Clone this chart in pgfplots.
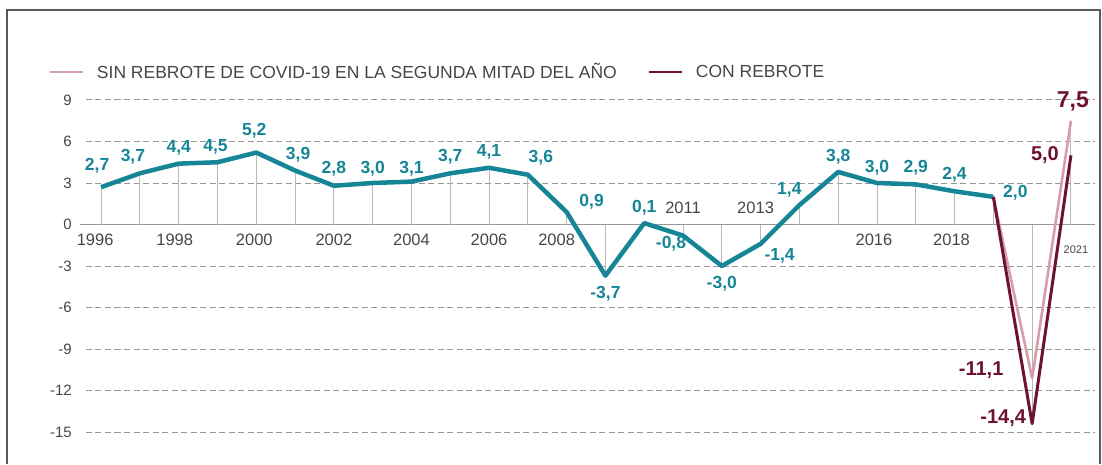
\documentclass[border=0pt]{standalone}
\usepackage{pgfplots}
\pgfplotsset{compat=1.18}
\usepackage{fontspec}
\setmainfont{Liberation Sans}
\definecolor{tealc}{RGB}{22,134,150}
\definecolor{maroonc}{RGB}{110,18,52}
\definecolor{pinkc}{RGB}{214,158,168}
\definecolor{gridc}{RGB}{150,150,150}
\definecolor{txtc}{RGB}{70,70,70}
\newcommand{\lf}{\fontsize{17.5}{17.5}\selectfont\bfseries}
\newcommand{\bigf}{\fontsize{20}{20}\selectfont\bfseries}
\newcommand{\yf}{\fontsize{16.5}{16.5}\selectfont}
\begin{document}
\begin{tikzpicture}[x=1pt,y=1pt]
\useasboundingbox (-86,-32) rectangle (1016,432);
\draw[black!65, line width=2pt] (-79,-32) -- (-79,422) -- (1014,422) -- (1014,-32);
\begin{axis}[
  at={(0,0)}, anchor=south west,
  scale only axis, width=1009pt, height=332pt,
  xmin=1995.61, xmax=2021.62, ymin=-15, ymax=9,
  clip=false,
  axis line style={draw=none},
  major tick length=0pt,
  xtick=\empty,
  ytick={-15,-12,-9,-6,-3,0,3,6,9},
  yticklabels={-15,-12,-9,-6,-3,0,3,6,9},
  yticklabel style={font=\fontsize{15}{15}\selectfont, text=txtc, inner sep=0pt, xshift=-14pt},
  ymajorgrids,
  grid style={gridc, line width=1pt, dash pattern=on 6pt off 3.5pt},
  legend columns=2,
  legend style={draw=none, fill=none, inner sep=0pt, outer sep=0pt,
    at={(-0.0367,1.0843)}, anchor=west,
    font=\fontsize{17.5}{17.5}\selectfont, text=txtc,
    nodes={inner sep=0pt},
    /tikz/every even column/.append style={column sep=31pt},
    /tikz/every odd column/.append style={column sep=13pt}},
  legend cell align=left,
  legend image code/.code={\draw[#1, line width=2pt] (0pt,0pt) -- (33pt,0pt);},
]
% zero line
\draw[gridc, line width=1.2pt] (axis cs:1995.45,0) -- (axis cs:2021.62,0);
% drop lines
\addplot[ycomb, draw=gray!55, line width=0.9pt, forget plot] coordinates {
(1996,2.7)(1997,3.7)(1998,4.4)(1999,4.5)(2000,5.2)(2001,3.9)(2002,2.8)(2003,3.0)
(2004,3.1)(2005,3.7)(2006,4.1)(2007,3.6)(2008,0.9)(2009,-3.7)(2010,0.1)(2011,-0.8)
(2012,-3.0)(2013,-1.4)(2014,1.4)(2015,3.8)(2016,3.0)(2017,2.9)(2018,2.4)(2019,2.0)
(2020,-14.4)(2021,7.5)};
% main series
\addplot[tealc, line width=4.5pt, line join=round, forget plot] coordinates {
(1996,2.7)(1997,3.7)(1998,4.4)(1999,4.5)(2000,5.2)(2001,3.9)(2002,2.8)(2003,3.0)
(2004,3.1)(2005,3.7)(2006,4.1)(2007,3.6)(2008,0.9)(2009,-3.7)(2010,0.1)(2011,-0.8)
(2012,-3.0)(2013,-1.4)(2014,1.4)(2015,3.8)(2016,3.0)(2017,2.9)(2018,2.4)(2019,2.0)};
\addplot[pinkc, line width=2.6pt, line join=round] coordinates {(2019,2.0)(2020,-11.1)(2021,7.5)};
\addlegendentry{SIN REBROTE DE COVID-19 EN LA SEGUNDA MITAD DEL AÑO}
\addplot[maroonc, line width=3pt, line join=round] coordinates {(2019,2.0)(2020,-14.4)(2021,5.0)};
\addlegendentry{CON REBROTE}
% year labels
\begin{scope}[every node/.style={font=\yf, text=txtc, inner sep=0pt}]
\node[xshift=-6pt,yshift=-15pt] at (axis cs:1996,0) {1996};
\node[xshift=-4pt,yshift=-15pt] at (axis cs:1998,0) {1998};
\node[xshift=-2pt,yshift=-15pt] at (axis cs:2000,0) {2000};
\node[yshift=-15pt] at (axis cs:2002,0) {2002};
\node[yshift=-15pt] at (axis cs:2004,0) {2004};
\node[yshift=-15pt] at (axis cs:2006,0) {2006};
\node[xshift=-10pt,yshift=-15pt] at (axis cs:2008,0) {2008};
\node[yshift=17pt] at (axis cs:2011,0) {2011};
\node[xshift=-5pt,yshift=17pt] at (axis cs:2013,0) {2013};
\node[xshift=-3pt,yshift=-15pt] at (axis cs:2016,0) {2016};
\node[xshift=-3pt,yshift=-15pt] at (axis cs:2018,0) {2018};
\node[font=\fontsize{11}{11}\selectfont, xshift=5pt,yshift=-25pt] at (axis cs:2021,0) {2021};
\end{scope}
% value labels
\begin{scope}[every node/.style={font=\lf, text=tealc, inner sep=0pt}]
\node[xshift=-4pt,yshift=21pt] at (axis cs:1996,2.7) {2,7};
\node[xshift=-7pt,yshift=17pt] at (axis cs:1997,3.7) {3,7};
\node[yshift=16pt] at (axis cs:1998,4.4) {4,4};
\node[xshift=-2pt,yshift=15pt] at (axis cs:1999,4.5) {4,5};
\node[xshift=-2pt,yshift=22pt] at (axis cs:2000,5.2) {5,2};
\node[xshift=3pt,yshift=16pt] at (axis cs:2001,3.9) {3,9};
\node[yshift=17pt] at (axis cs:2002,2.8) {2,8};
\node[yshift=14pt] at (axis cs:2003,3.0) {3,0};
\node[yshift=13pt] at (axis cs:2004,3.1) {3,1};
\node[yshift=17pt] at (axis cs:2005,3.7) {3,7};
\node[yshift=16pt] at (axis cs:2006,4.1) {4,1};
\node[xshift=13pt,yshift=17pt] at (axis cs:2007,3.6) {3,6};
\node[xshift=25pt,yshift=10pt] at (axis cs:2008,0.9) {0,9};
\node[yshift=-18pt] at (axis cs:2009,-3.7) {-3,7};
\node[yshift=15pt] at (axis cs:2010,0.1) {0,1};
\node[xshift=-12pt,yshift=-8pt] at (axis cs:2011,-0.8) {-0,8};
\node[yshift=-18pt] at (axis cs:2012,-3.0) {-3,0};
\node[xshift=19pt,yshift=-12pt] at (axis cs:2013,-1.4) {-1,4};
\node[xshift=-10pt,yshift=15pt] at (axis cs:2014,1.4) {1,4};
\node[yshift=15pt] at (axis cs:2015,3.8) {3,8};
\node[yshift=15pt] at (axis cs:2016,3.0) {3,0};
\node[yshift=17pt] at (axis cs:2017,2.9) {2,9};
\node[yshift=17pt] at (axis cs:2018,2.4) {2,4};
\node[xshift=22pt,yshift=4pt] at (axis cs:2019,2.0) {2,0};
\end{scope}
\begin{scope}[every node/.style={font=\bigf, text=maroonc, inner sep=0pt}]
\node[xshift=-51pt,yshift=8pt] at (axis cs:2020,-11.1) {-11,1};
\node[xshift=-29pt,yshift=6pt] at (axis cs:2020,-14.4) {-14,4};
\node[font=\fontsize{23}{23}\selectfont\bfseries, xshift=2pt,yshift=19pt] at (axis cs:2021,7.5) {7,5};
\node[xshift=-26pt,yshift=0pt] at (axis cs:2021,5.0) {5,0};
\end{scope}
\end{axis}
\end{tikzpicture}
\end{document}
